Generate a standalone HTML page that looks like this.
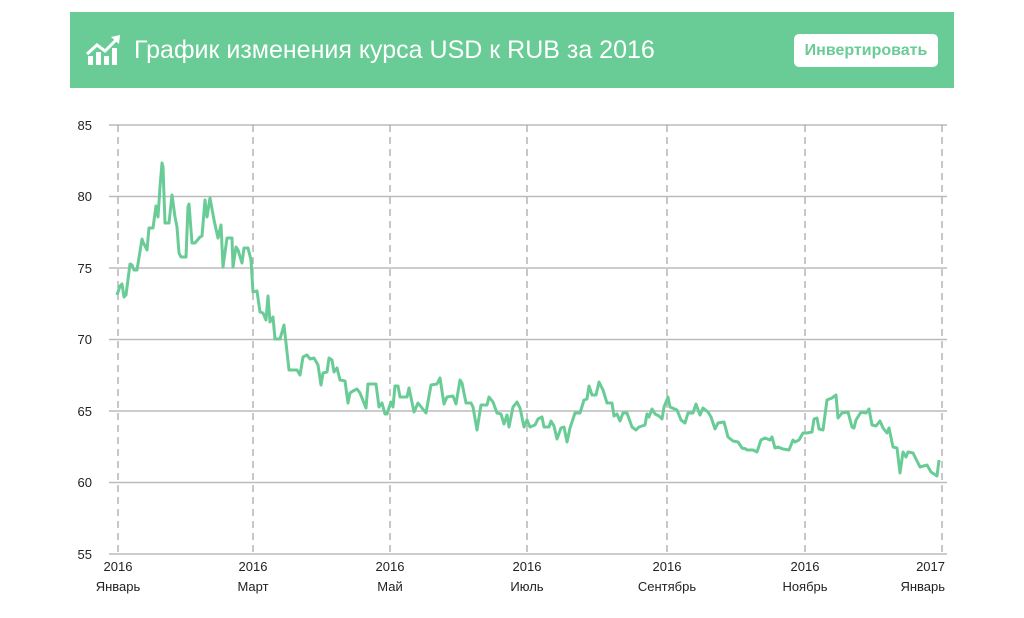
<!DOCTYPE html>
<html><head><meta charset="utf-8"><style>
body{margin:0;width:1024px;height:618px;background:#fff;font-family:"Liberation Sans",sans-serif;overflow:hidden;position:relative}
.hdr{position:absolute;left:70px;top:12px;width:884px;height:76px;background:#69cc96}
.title{position:absolute;left:134px;top:36px;color:#fff;font-size:25px;line-height:28px}
.btn{position:absolute;left:794px;top:34px;width:144px;height:33px;background:#fff;border-radius:5px;color:#69cc96;font-weight:bold;font-size:16px;line-height:33px;text-align:center}
</style></head><body>
<div class="hdr"></div>
<svg style="position:absolute;left:84px;top:34px" width="40" height="32" viewBox="0 0 40 32">
<g fill="#fff"><rect x="4" y="22" width="5" height="9"/><rect x="12" y="18" width="5" height="13"/><rect x="20" y="22" width="5" height="9"/><rect x="28" y="14" width="5" height="17"/></g>
<polyline points="3,20 13,11 21,17 33,5" fill="none" stroke="#fff" stroke-width="3"/><polygon points="27,3 36,1 35,10" fill="#fff"/>
</svg>
<div class="title">График изменения курса USD к RUB за 2016</div>
<div class="btn">Инвертировать</div>
<svg style="position:absolute;left:0;top:0" width="1024" height="618">
<g stroke="#bbb" stroke-width="1.5">
<line x1="109" y1="125" x2="947" y2="125"/><line x1="109" y1="196.5" x2="947" y2="196.5"/><line x1="109" y1="268" x2="947" y2="268"/><line x1="109" y1="339.5" x2="947" y2="339.5"/><line x1="109" y1="411" x2="947" y2="411"/><line x1="109" y1="482.5" x2="947" y2="482.5"/><line x1="109" y1="554" x2="947" y2="554"/>
</g>
<g stroke="#aaa" stroke-width="1.3" stroke-dasharray="7,5">
<line x1="118" y1="125" x2="118" y2="556"/><line x1="253" y1="125" x2="253" y2="556"/><line x1="390" y1="125" x2="390" y2="556"/><line x1="527" y1="125" x2="527" y2="556"/><line x1="667" y1="125" x2="667" y2="556"/><line x1="805" y1="125" x2="805" y2="556"/><line x1="942" y1="125" x2="942" y2="556"/>
</g>
<g font-size="13" fill="#222" text-anchor="end">
<text x="92" y="130">85</text><text x="92" y="201">80</text><text x="92" y="273">75</text><text x="92" y="344">70</text><text x="92" y="416">65</text><text x="92" y="487">60</text><text x="92" y="559">55</text>
</g>
<g font-size="13" fill="#222" text-anchor="middle">
<text x="118" y="571">2016</text><text x="118" y="591">Январь</text>
<text x="253" y="571">2016</text><text x="253" y="591">Март</text>
<text x="390" y="571">2016</text><text x="390" y="591">Май</text>
<text x="527" y="571">2016</text><text x="527" y="591">Июль</text>
<text x="667" y="571">2016</text><text x="667" y="591">Сентябрь</text>
<text x="805" y="571">2016</text><text x="805" y="591">Ноябрь</text>
</g>
<g font-size="13" fill="#222" text-anchor="end"><text x="945" y="571">2017</text><text x="945" y="591">Январь</text></g>
<polyline fill="none" stroke="#69cc96" stroke-width="3" stroke-linejoin="round" points="117,295 120,286 122,284 124,297 126,295 130,264 132,265 134,270 137,270 142,239 143,242 147,250 149,228 153,228 156,206 158,217 160,187 162,163 163,167 165,223 169,223 172,195 175,217 177,227 179,253 181,257 186,257 188,207 189,204 192,243 195,243 200,237 202,236 205,200 207,217 210,198 214,220 218,238 221,225 223,267 227,238 232,238 233,267 236,247 238,250 242,263 244,248 248,248 251,260 253,292 257,291 260,312 263,313 266,320 268,296 270,322 273,317 275,339 280,339 284,325 289,370 297,370 300,375 303,357 307,355 310,359 314,358 318,365 321,385 323,373 327,372 329,358 332,360 334,372 337,368 340,380 345,381 348,403 350,393 353,391 357,389 360,393 366,408 368,384 376,384 379,407 382,403 385,414 387,414 391,402 393,407 395,386 398,386 400,397 407,397 409,388 414,412 418,403 426,413 431,385 437,384 440,378 444,404 447,397 453,396 456,404 460,380 462,383 466,403 471,403 473,407 477,430 481,405 487,405 489,397 493,402 497,413 501,414 504,424 507,415 509,427 513,407 517,402 520,408 524,427 527,420 530,427 535,425 538,419 542,417 544,427 549,427 551,421 554,426 557,439 561,428 564,427 567,442 570,428 575,413 580,413 584,400 587,399 589,386 592,395 596,395 599,382 603,390 607,403 612,403 614,416 617,414 620,421 623,413 627,413 632,427 636,430 639,427 645,425 647,414 649,417 652,409 655,414 659,416 662,419 664,407 668,397 670,407 677,410 681,420 685,423 688,413 693,413 696,404 700,415 703,408 708,412 711,417 715,429 718,423 724,422 728,437 733,441 738,442 742,448 746,449 747,450 753,450 757,452 761,440 765,438 770,440 772,437 775,448 778,447 783,449 789,450 793,440 795,442 799,440 803,433 807,433 812,432 814,419 817,418 819,429 823,430 827,400 832,398 836,395 838,418 842,413 848,412 852,427 854,428 856,420 861,412 866,413 869,409 872,425 876,426 880,421 883,428 887,433 889,428 893,447 897,448 900,473 903,452 906,457 908,452 913,453 920,467 927,465 931,472 937,476 939,460"/>
</svg>
</body></html>
